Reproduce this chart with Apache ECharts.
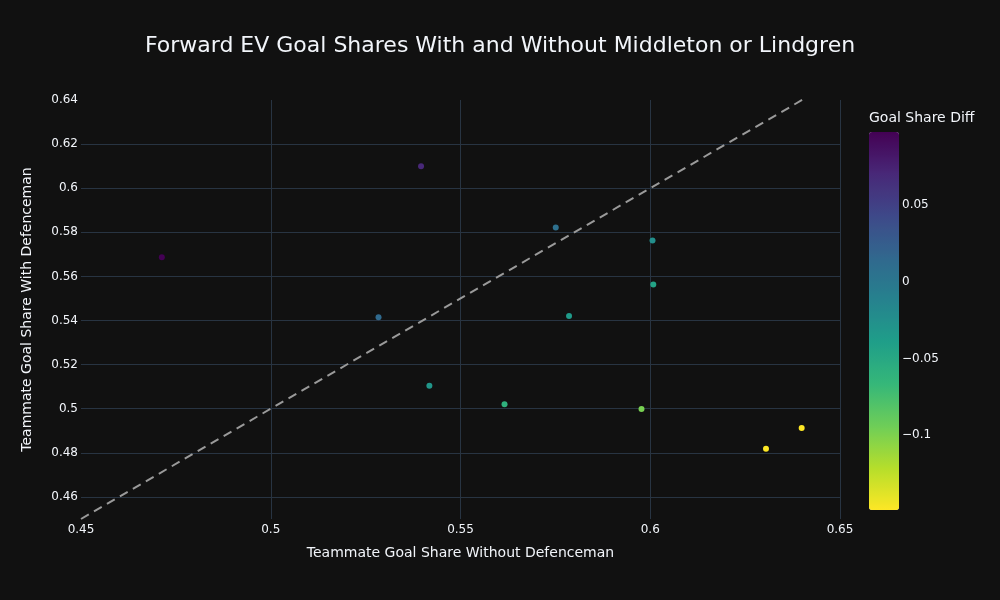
<!DOCTYPE html>
<html>
<head>
<meta charset="utf-8">
<script src="https://cdn.jsdelivr.net/npm/echarts@6/dist/echarts.min.js"></script>
<style>
  html, body { margin: 0; padding: 0; background: #111111; }
  #main { width: 1000px; height: 600px; }
</style>
</head>
<body>
<div id="main"></div>
<script>
// goal share of teammates without / with the defenceman
var shareWithout = [0.4713, 0.5396, 0.5284, 0.5751, 0.6006, 0.6008, 0.5786, 0.5418, 0.5616, 0.5977, 0.6305, 0.6399];
var shareWith    = [0.5687, 0.6100, 0.5415, 0.5822, 0.5763, 0.5563, 0.5421, 0.5104, 0.5020, 0.4999, 0.4818, 0.4913];
var diagLine = [0.45, 0.65];
var viridisRev = ['#fde725', '#b5de2b', '#6ece58', '#35b779', '#1f9e89', '#26828e', '#31688e', '#3e4989', '#482878', '#440154'];

var main = document.getElementById("main");
var mychart = echarts.init(main);

var points = shareWithout.map(function (x, i) {
    return [x, shareWith[i], shareWith[i] - x];
});
var diffs = points.map(function (p) { return p[2]; });
var dmin = Math.min.apply(null, diffs);
var dmax = Math.max.apply(null, diffs);

var txt = '#f2f5fa';
var gridCol = '#283442';
var font = 'DejaVu Sans';
var minus = function (v) { return String(v).replace('-', '\u2212'); };

var option = {
    backgroundColor: '#111111',
    textStyle: { fontFamily: font },
    title: [
        { text: 'Forward EV Goal Shares With and Without Middleton or Lindgren', left: 'center', top: 30,
          textStyle: { color: txt, fontSize: 22, fontWeight: 'normal', fontFamily: font } },
        { text: 'Goal Share Diff', left: 864, top: 106,
          textStyle: { color: txt, fontSize: 14, fontWeight: 'normal', fontFamily: font } }
    ],
    grid: [
        { left: 81, right: 160, top: 100, bottom: 81 },
        { left: 869, width: 30, top: 132, height: 378 }
    ],
    xAxis: [
        { type: 'value', min: 0.45, max: 0.65, interval: 0.05,
          name: 'Teammate Goal Share Without Defenceman', nameLocation: 'middle', nameGap: 27,
          nameTextStyle: { color: txt, fontSize: 14 },
          axisLine: { show: false }, axisTick: { show: false },
          axisLabel: { color: txt, fontSize: 12, margin: 5 },
          splitLine: { show: true, showMinLine: false, showMaxLine: true, lineStyle: { color: gridCol, width: 1 } } },
        { gridIndex: 1, type: 'value', show: false }
    ],
    yAxis: [
        { type: 'value', min: 0.45, max: 0.64, splitNumber: 10,
          name: 'Teammate Goal Share With Defenceman', nameLocation: 'middle', nameGap: 47,
          nameTextStyle: { color: txt, fontSize: 14 },
          axisLine: { show: false }, axisTick: { show: false },
          axisLabel: { color: txt, fontSize: 12, margin: 3, showMinLabel: false },
          splitLine: { show: true, showMinLine: false, showMaxLine: false, lineStyle: { color: gridCol, width: 1 } } },
        { gridIndex: 1, type: 'value', min: dmin, max: dmax, splitNumber: 5, position: 'right',
          axisLine: { show: false }, axisTick: { show: false }, splitLine: { show: false },
          axisLabel: { color: txt, fontSize: 12, margin: 3, showMinLabel: false, showMaxLabel: false, formatter: minus } }
    ],
    visualMap: {
        type: 'continuous', seriesIndex: 0, dimension: 2,
        min: dmin, max: dmax, calculable: false,
        left: 869, top: 132, padding: 0, itemWidth: 30, itemHeight: 378,
        inRange: { color: viridisRev },
        textStyle: { color: txt }
    },
    series: [
        { type: 'scatter', data: points, symbolSize: 6, itemStyle: { opacity: 1 } },
        { type: 'line', data: diagLine.map(function (v) { return [v, v]; }), symbol: 'none', clip: true,
          lineStyle: { color: '#9a9a9a', width: 2, type: [9, 6] }, z: 1, silent: true }
    ]
};
mychart.setOption(option);
</script>
</body>
</html>
